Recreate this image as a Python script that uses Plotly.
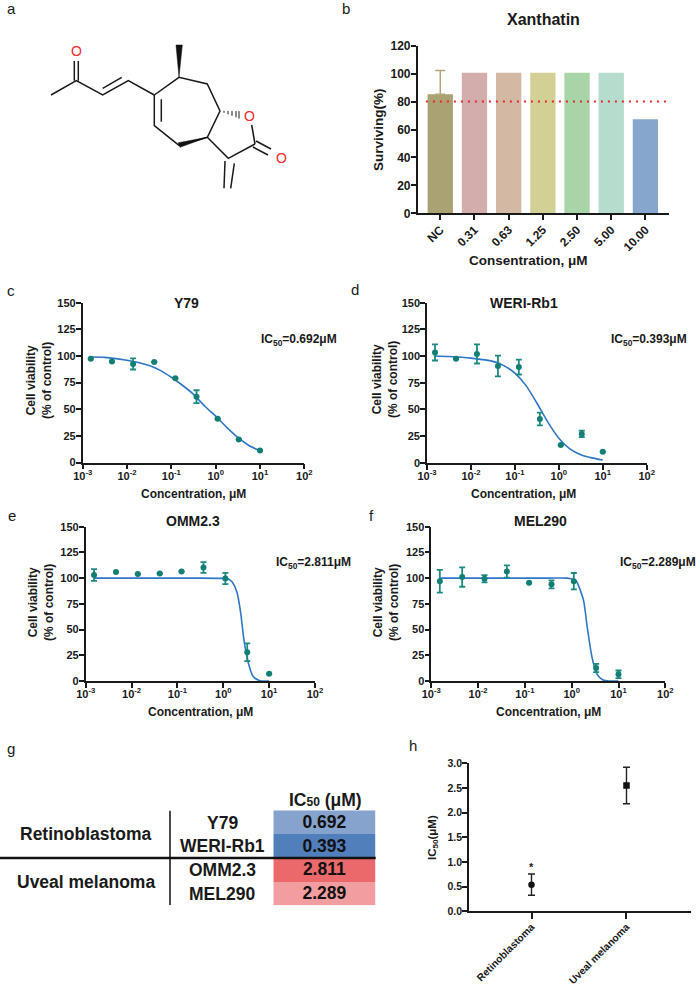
import plotly.graph_objects as go

FONT = "Liberation Sans"
INK = "#1a1a1a"
W, H = 700, 987

# panel b
bar_cats = ["NC", "0.31", "0.63", "1.25", "2.50", "5.00", "10.00"]
bar_vals = [85.3, 100.7, 100.7, 100.7, 100.7, 100.7, 67.4]
nc_err = [17.0]
bar_cols = ["#aba273", "#d3adac", "#d3b8a3", "#d3d095", "#a9d4a7", "#b5dccd", "#87a6cd"]
threshold = 80

# dose-response panels
conc = [0.00152, 0.00457, 0.0137, 0.0412, 0.123, 0.37, 1.11, 3.33, 10.0]
y79_y = [97.5, 94.7, 92.5, 94.4, 79, 61.8, 41, 21.6, 11.3]
y79_e = [None, None, 5.2, None, None, 6, None, None, None]
y79_cx = [-2.82, -2.5, -2, -1.5, -1.25, -1, -0.75, -0.5, -0.25, 0, 0.25, 0.5, 0.75, 1]
y79_cy = [99, 98.7, 96, 91, 86.5, 80, 72.5, 64, 53, 43.5, 33, 23.5, 16, 11]

weri_y = [103.4, 97.5, 102, 90.6, 89.7, 41, 16.6, 27, 10.3]
weri_e = [7.6, None, 9, 9.7, 7, 6, None, 3, None]
weri_cx = [-2.82, -2.5, -2, -1.5, -1.25, -1, -0.75, -0.5, -0.25, 0, 0.25, 0.5, 0.75, 1]
weri_cy = [100, 99.5, 98, 95, 91, 84, 72.5, 56, 38, 23, 13, 7.5, 4.5, 2.5]

omm_y = [103, 106, 104, 104.5, 106.5, 110.4, 99.7, 28, 7]
omm_e = [5.7, None, None, None, None, 5.2, 5.5, 8.6, None]
omm_cx = [-2.82, -2, -1, -0.5, 0, 0.1, 0.15, 0.2, 0.3, 0.38, 0.45, 0.55, 0.65, 0.8, 1]
omm_cy = [100, 100, 100, 100, 99.8, 99.5, 98, 96, 86, 66, 40, 17, 4.5, 0.3, 0]

mel_y = [97, 101, 99.4, 106.5, 95.5, 94, 97, 12.7, 6.5]
mel_e = [11, 9.4, 3.6, 6, None, 3.9, 8, 4, 3.7]
mel_cx = [-2.82, -2, -1, -0.5, -0.1, 0.05, 0.1, 0.25, 0.33, 0.43, 0.53, 0.67, 0.82, 1]
mel_cy = [100, 100, 100, 100, 100, 98.5, 97, 79, 53, 24, 7.5, 1, 0, 0]

log_vals = [0.001, 0.01, 0.1, 1, 10, 100]
log_text = ["10<sup>-3</sup>", "10<sup>-2</sup>", "10<sup>-1</sup>", "10<sup>0</sup>", "10<sup>1</sup>", "10<sup>2</sup>"]
via_ticks = [0, 25, 50, 75, 100, 125, 150]

# panel g
tbl_rows = ["Y79", "WERI-Rb1", "OMM2.3", "MEL290"]
tbl_vals = [0.692, 0.393, 2.811, 2.289]

# panel h
h_cats = ["Retinoblastoma", "Uveal melanoma"]
h_vals = [0.54, 2.55]
h_err = [0.215, 0.37]


def xdom(a, b):
    return [a / W, b / W]


def ydom(top, bottom):
    return [1 - bottom / H, 1 - top / H]


fig = go.Figure()
layout = dict(
    template="none",
    width=W, height=H, margin=dict(l=0, r=0, t=0, b=0, pad=0), autosize=False,
    paper_bgcolor="white", plot_bgcolor="rgba(0,0,0,0)", showlegend=False, barmode="overlay",
    font=dict(family=FONT, color=INK),
)


def axis_style(size, **kw):
    d = dict(showgrid=False, zeroline=False, showline=True, linecolor=INK, linewidth=1.6,
             ticks="outside", ticklen=5, tickwidth=1.5, tickcolor=INK, automargin=False,
             ticklabelstandoff=-2,
             tickfont=dict(family=FONT, size=size, color=INK, weight="bold"))
    d.update(kw)
    return d


# overlay canvas in page pixels
layout["xaxis"] = dict(domain=[0, 1], range=[0, W], visible=False, fixedrange=True, automargin=False)
layout["yaxis"] = dict(domain=[0, 1], range=[H, 0], visible=False, fixedrange=True, automargin=False)

# panel b
layout["xaxis2"] = axis_style(12, domain=xdom(417.7, 669), range=[-0.66, 6.69], anchor="y2",
                              type="linear", tickvals=list(range(7)), ticktext=bar_cats, tickangle=-45)
layout["yaxis2"] = axis_style(12, domain=ydom(45.7, 213.3), range=[0, 120], anchor="x2",
                              tickvals=[0, 20, 40, 60, 80, 100, 120])
fig.add_trace(go.Bar(x=[0], y=bar_vals[:1], width=0.74, marker=dict(color=bar_cols[:1], line=dict(width=0)),
                     error_y=dict(type="data", symmetric=False, array=nc_err, arrayminus=[0],
                                  color="#b0a878", thickness=1.5, width=5),
                     xaxis="x2", yaxis="y2"))
fig.add_trace(go.Bar(x=list(range(1, 7)), y=bar_vals[1:], width=0.74,
                     marker=dict(color=bar_cols[1:], line=dict(width=0)),
                     xaxis="x2", yaxis="y2"))
fig.add_trace(go.Scatter(x=[-0.42, 6.68], y=[threshold, threshold], mode="lines",
                         line=dict(color="#e8262c", width=2, dash="2px,5px"), xaxis="x2", yaxis="y2"))

# dose-response
panels = [
    (3, 82.7, 304.3, 302.7, 462.5, y79_y, y79_e, y79_cx, y79_cy),
    (4, 427, 646.7, 302.7, 462.7, weri_y, weri_e, weri_cx, weri_cy),
    (5, 85.7, 315, 526.7, 681, omm_y, omm_e, omm_cx, omm_cy),
    (6, 431.3, 665.3, 526.7, 681, mel_y, mel_e, mel_cx, mel_cy),
]
for n, l, r, t, b, py, pe, cx, cy in panels:
    layout[f"xaxis{n}"] = axis_style(11, domain=xdom(l, r), type="log", range=[-3, 2], anchor=f"y{n}",
                                     tickvals=log_vals, ticktext=log_text, ticklabelstandoff=-3)
    layout[f"yaxis{n}"] = axis_style(11, domain=ydom(t, b), range=[0, 150], anchor=f"x{n}", tickvals=via_ticks)
    fig.add_trace(go.Scatter(x=[10 ** v for v in cx], y=cy, mode="lines",
                             line=dict(color="#2f76c6", width=1.6, shape="spline", smoothing=0.7),
                             xaxis=f"x{n}", yaxis=f"y{n}", cliponaxis=False))
    fig.add_trace(go.Scatter(x=conc, y=py, mode="markers",
                             marker=dict(color="#137f74", size=6),
                             error_y=dict(type="data", array=pe, color="#1c8a80", thickness=1.8, width=3),
                             xaxis=f"x{n}", yaxis=f"y{n}", cliponaxis=False))

# panel g heat cells
layout["xaxis7"] = dict(domain=xdom(273.3, 375.7), visible=False, fixedrange=True, anchor="y7", automargin=False)
layout["yaxis7"] = dict(domain=ydom(810.3, 905.2), visible=False, fixedrange=True, anchor="x7",
                        autorange="reversed", automargin=False)
fig.add_trace(go.Heatmap(
    z=[[v] for v in tbl_vals], x=["IC50"], y=tbl_rows, showscale=False, xgap=0, ygap=0,
    colorscale=[[0, "#517fbc"], [0.1237, "#85a3cc"], [0.784, "#f29ea0"], [1, "#ec696b"]],
    texttemplate="%{z:.3f}", textfont=dict(family=FONT, size=17.5, color="#111111", weight="bold"),
    xaxis="x7", yaxis="y7"))

# panel h
layout["xaxis8"] = axis_style(10.2, domain=xdom(469, 690.7), range=[-0.658, 1.676], anchor="y8",
                              tickvals=[0, 1], ticktext=h_cats, tickangle=-45, ticklen=6, ticklabelstandoff=-2)
layout["yaxis8"] = axis_style(10.5, domain=ydom(763.3, 911.3), range=[0, 3], anchor="x8",
                              tickvals=[0, 0.5, 1, 1.5, 2, 2.5, 3], tickformat=".1f")
fig.add_trace(go.Scatter(x=[0], y=[h_vals[0]], mode="markers", marker=dict(color="#111111", size=6.5, symbol="circle"),
                         error_y=dict(type="data", array=[h_err[0]], color="#222222", thickness=1.4, width=3.5),
                         xaxis="x8", yaxis="y8"))
fig.add_trace(go.Scatter(x=[1], y=[h_vals[1]], mode="markers", marker=dict(color="#111111", size=6.5, symbol="square"),
                         error_y=dict(type="data", array=[h_err[1]], color="#222222", thickness=1.4, width=3.5),
                         xaxis="x8", yaxis="y8"))

# molecule (page-pixel sketch)
bonds = [
    [(51, 95), (76.3, 80.7), (102.7, 95), (128.3, 80.7), (154.3, 95)],
    [(102.7, 88.3), (121.7, 77.3)],
    [(74.3, 80.7), (74.3, 61)], [(78.3, 80.7), (78.3, 61)],
    [(154.3, 95), (179, 77.3), (207.3, 84), (220, 111), (207.3, 137.3), (179, 145.3), (154.3, 125.7), (154.3, 95)],
    [(161.3, 99.3), (161.3, 121.7)],
    [(251.7, 125), (255, 144)],
    [(255, 144), (228.3, 158.3), (207.3, 137.3)],
    [(256, 141), (271, 149)], [(253, 147), (268, 155)],
    [(225, 161), (224, 188.3)], [(234.3, 163.3), (230.7, 188.3)],
]
for seg in bonds:
    fig.add_trace(go.Scatter(x=[p[0] for p in seg], y=[p[1] for p in seg], mode="lines",
                             line=dict(color="#1a1a1a", width=1.5), xaxis="x", yaxis="y"))
wedges = [
    [(179, 77.3), (176, 45), (182.3, 45), (179, 77.3)],
    [(207.3, 137.3), (178.3, 142.7), (180, 147.3), (207.3, 137.3)],
]
for seg in wedges:
    fig.add_trace(go.Scatter(x=[p[0] for p in seg], y=[p[1] for p in seg], mode="lines", fill="toself",
                             fillcolor="#111111", line=dict(color="#111111", width=0.5), xaxis="x", yaxis="y"))
hash_x = [224, 228, 232, 236, 239]
hash_half = [1.0, 1.7, 2.4, 3.1, 3.7]
for hx, hh in zip(hash_x, hash_half):
    hy = 111 + (hx - 220) * 0.2
    fig.add_trace(go.Scatter(x=[hx, hx], y=[hy - hh, hy + hh], mode="lines",
                             line=dict(color="#1a1a1a", width=1), xaxis="x", yaxis="y"))

anns = []


def note(x, y, text, size=12, bold=True, color=INK, angle=0, align="center"):
    anns.append(dict(x=x, y=y, xref="x", yref="y", text=text, showarrow=False, textangle=angle, align=align,
                     xanchor="center", yanchor="middle",
                     font=dict(family=FONT, size=size, color=color, weight="bold" if bold else "normal")))


for x, y, t in [(11, 8, "a"), (346, 8, "b"), (11, 290, "c"), (355, 289, "d"), (12, 515, "e"),
                (371, 515, "f"), (11, 748, "g"), (413, 745, "h")]:
    note(x, y, t, size=15, bold=False)
for x, y in [(76.3, 51), (249.3, 115.5), (281.7, 157.5)]:
    note(x, y, "O", size=14, bold=False, color="#ee2a2a")

note(543, 19, "Xanthatin", size=16)
note(528, 260, "Consentration, μM", size=13.5)
note(378, 130, "Surviving(%)", size=13.5, angle=-90)

for x, y, t in [(186, 303, "Y79"), (524, 303, "WERI-Rb1"), (193, 520.5, "OMM2.3"), (540.7, 520.5, "MEL290")]:
    note(x, y, t, size=14)
for x, y in [(193, 494), (523, 494), (200, 712), (548, 712)]:
    note(x, y, "Concentration, μM", size=12)
for x, y in [(39, 381), (385, 380), (41, 603), (386, 603)]:
    note(x, y, "Cell viability<br>(% of control)", size=12, angle=-90)
for x, y, t in [(299, 340, "0.692"), (648.5, 340, "0.393"), (313, 563, "2.811"), (658, 563, "2.289")]:
    note(x, y, f"IC<sub>50</sub>={t}μM", size=12)

note(85.5, 834, "Retinoblastoma", size=17.5)
note(85.5, 882, "Uveal melanoma", size=17.5)
for y, t in zip([823, 846, 870, 894], tbl_rows):
    note(222, y, t, size=17.5)
note(325, 800, 'IC<span style="font-size:12px">50</span> (μM)', size=17.5)

note(433, 838, "IC<sub>50</sub>(μM)", size=11.5, angle=-90)
note(531, 867, "*", size=11)

layout["annotations"] = anns
layout["shapes"] = [
    dict(type="line", xref="x", yref="y", x0=0, x1=375.7, y0=858, y1=858, line=dict(color="#111111", width=2.5), layer="above"),
    dict(type="line", xref="x", yref="y", x0=170, x1=170, y0=810.7, y1=905, line=dict(color="#111111", width=1.5), layer="above"),
]
fig.update_layout(**layout)
fig.write_html("out.html", config=dict(displayModeBar=False),
               post_script="document.body.style.margin='0';document.documentElement.style.overflow='hidden';")
